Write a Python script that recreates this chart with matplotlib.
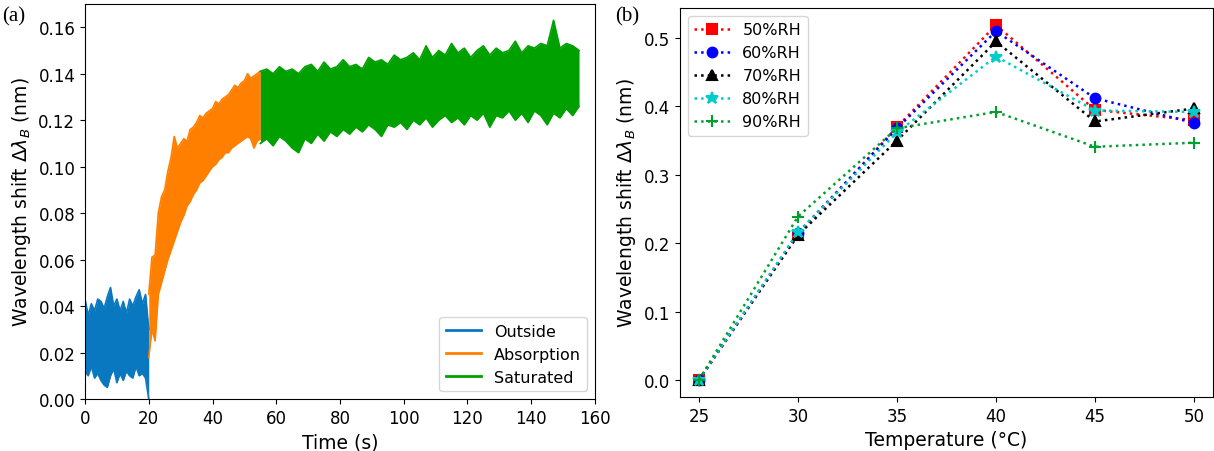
import numpy as np
import matplotlib
matplotlib.use("Agg")
import matplotlib.pyplot as plt

# ---------------- Panel (a) data: signal envelope ----------------
t_out = np.arange(0, 21, 1.0)
out_upper = [0.043, 0.036, 0.041, 0.038, 0.043, 0.042, 0.039, 0.044, 0.048, 0.040, 0.043,
             0.038, 0.042, 0.037, 0.043, 0.040, 0.044, 0.047, 0.041, 0.045, 0.030]
out_lower = [0.012, 0.010, 0.014, 0.009, 0.011, 0.008, 0.006, 0.005, 0.010, 0.013, 0.007,
             0.011, 0.008, 0.012, 0.010, 0.009, 0.014, 0.010, 0.011, 0.009, 0.000]

t_abs = np.arange(20, 56, 1.0)
abs_upper = [0.045, 0.061, 0.062, 0.080, 0.087, 0.090, 0.098, 0.104, 0.113, 0.108, 0.110, 0.112,
             0.111, 0.116, 0.117, 0.119, 0.122, 0.121, 0.123, 0.124, 0.125, 0.128, 0.127, 0.129,
             0.130, 0.131, 0.133, 0.135, 0.134, 0.136, 0.137, 0.140, 0.138, 0.139, 0.140, 0.141]
abs_lower = [0.018, 0.030, 0.025, 0.045, 0.050, 0.055, 0.060, 0.064, 0.068, 0.072, 0.076, 0.079,
             0.083, 0.085, 0.088, 0.090, 0.093, 0.094, 0.096, 0.098, 0.100, 0.101, 0.103, 0.104,
             0.106, 0.106, 0.108, 0.109, 0.110, 0.111, 0.112, 0.113, 0.112, 0.108, 0.111, 0.112]

t_sat = np.arange(55, 156, 2.0)
sat_upper = [0.141, 0.142, 0.140, 0.143, 0.141, 0.142, 0.140, 0.143, 0.144, 0.141,
             0.145, 0.142, 0.143, 0.146, 0.143, 0.144, 0.142, 0.147, 0.145, 0.146,
             0.144, 0.148, 0.146, 0.147, 0.149, 0.146, 0.152, 0.147, 0.150, 0.148,
             0.153, 0.149, 0.151, 0.147, 0.150, 0.152, 0.148, 0.151, 0.149, 0.150,
             0.154, 0.149, 0.152, 0.151, 0.153, 0.152, 0.163, 0.151, 0.153, 0.152,
             0.150]
sat_lower = [0.110, 0.112, 0.109, 0.113, 0.111, 0.108, 0.106, 0.112, 0.110, 0.114,
             0.111, 0.115, 0.113, 0.116, 0.114, 0.117, 0.115, 0.118, 0.116, 0.113,
             0.118, 0.117, 0.119, 0.116, 0.120, 0.118, 0.121, 0.117, 0.120, 0.122,
             0.119, 0.121, 0.118, 0.122, 0.120, 0.123, 0.117, 0.122, 0.121, 0.124,
             0.120, 0.123, 0.119, 0.124, 0.122, 0.118, 0.123, 0.121, 0.125, 0.122,
             0.126]

seg_labels = ["Outside", "Absorption", "Saturated"]
seg_colors = ["#0a78c0", "#ff8000", "#00a000"]

# ---------------- Panel (b) data ----------------
temps = [25, 30, 35, 40, 45, 50]
rh_labels = ["50%RH", "60%RH", "70%RH", "80%RH", "90%RH"]
rh50 = [0.0, 0.212, 0.370, 0.519, 0.395, 0.380]
rh60 = [0.0, 0.215, 0.368, 0.510, 0.412, 0.376]
rh70 = [0.0, 0.212, 0.350, 0.495, 0.378, 0.397]
rh80 = [0.0, 0.216, 0.362, 0.473, 0.394, 0.392]
rh90 = [0.0, 0.239, 0.368, 0.392, 0.341, 0.347]
rh_colors = ["red", "blue", "black", "#00cccc", "#00a030"]
rh_markers = ["s", "o", "^", "*", "+"]

# ---------------- Figure ----------------
fig = plt.figure(figsize=(12.14, 4.52), dpi=100)
W, H = 1214, 452
ax1 = fig.add_axes([85 / W, 1 - 400 / H, (595 - 85) / W, (400 - 5) / H])
ax2 = fig.add_axes([680 / W, 1 - 398 / H, (1213 - 680) / W, (398 - 9) / H])

for (t, up, lo), lab, col in zip([(t_out, out_upper, out_lower),
                                  (t_abs, abs_upper, abs_lower),
                                  (t_sat, sat_upper, sat_lower)], seg_labels, seg_colors):
    ax1.fill_between(t, lo, up, color=col, lw=0)
    ax1.plot(t, up, color=col, lw=1.2, label=lab)
    ax1.plot(t, lo, color=col, lw=1.2)

ax1.set_xlim(0, 160)
ax1.set_ylim(0, 0.17)
ax1.set_xticks(np.arange(0, 161, 20))
ax1.set_yticks(np.arange(0, 0.161, 0.02))
ax1.yaxis.set_major_formatter(matplotlib.ticker.FormatStrFormatter("%.2f"))
ax1.tick_params(labelsize=12)
ax1.set_xlabel("Time (s)", fontsize=13.5)
ax1.set_ylabel(r"Wavelength shift $\Delta\lambda_B$ (nm)", fontsize=13.5)
leg1 = ax1.legend(loc="lower right", fontsize=11.5, handlelength=2.2)
for h in leg1.get_lines():
    h.set_linewidth(2)

series = [rh50, rh60, rh70, rh80, rh90]
for vals, lab, col, mk in zip(series, rh_labels, rh_colors, rh_markers):
    ms = 9 if mk == "*" else (8 if mk == "+" else 7)
    ax2.plot(temps, vals, linestyle=":", color=col, marker=mk, markersize=ms,
             lw=1.8, mew=1.5, label=lab)

ax2.set_xlim(24.04, 50.96)
ax2.set_ylim(-0.025, 0.544)
ax2.set_xticks(temps)
ax2.set_yticks([0.0, 0.1, 0.2, 0.3, 0.4, 0.5])
ax2.tick_params(labelsize=12)
ax2.set_xlabel("Temperature (°C)", fontsize=13.5)
ax2.set_ylabel(r"Wavelength shift $\Delta\lambda_B$ (nm)", fontsize=13.5)
ax2.legend(loc="upper left", fontsize=11.5, handlelength=2.2)

fig.text(2 / W, 1 - 17 / H, "(a)", family="Liberation Serif", fontsize=15, va="center")
fig.text(615 / W, 1 - 17 / H, "(b)", family="Liberation Serif", fontsize=15, va="center")

fig.savefig("out.png", dpi=100)
